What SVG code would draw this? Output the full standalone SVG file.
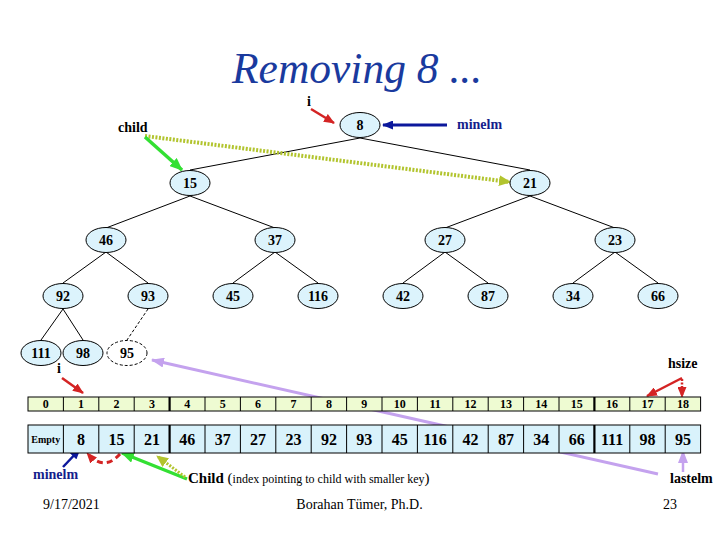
<svg xmlns="http://www.w3.org/2000/svg" width="720" height="540" viewBox="0 0 720 540">
<defs>
<style>
.edge{stroke:#000;stroke-width:1;fill:none}
.node ellipse{fill:#dcf3fc;stroke:#000;stroke-width:1}
.node text,.lbl{font-family:"Liberation Serif","Times New Roman",serif;font-weight:bold;font-size:14px;fill:#000}
.node text{text-anchor:middle}
.idx{fill:#eefbd2;stroke:#000;stroke-width:1}
.val{fill:#d9f2fb;stroke:#000;stroke-width:1}
.it{font-family:"Liberation Serif",serif;font-weight:bold;font-size:12px;text-anchor:middle}
.vt{font-family:"Liberation Serif",serif;font-weight:bold;font-size:16px;text-anchor:middle}
.ft{font-family:"Liberation Serif",serif;font-size:14px;fill:#000}
</style>
<marker id="ar-red" markerUnits="userSpaceOnUse" markerWidth="11" markerHeight="9" refX="10" refY="4.5" orient="auto"><path d="M0,0 L11,4.5 L0,9 z" fill="#d42424"/></marker>
<marker id="ar-blue" markerUnits="userSpaceOnUse" markerWidth="11" markerHeight="9" refX="10" refY="4.5" orient="auto"><path d="M0,0 L11,4.5 L0,9 z" fill="#0c189c"/></marker>
<marker id="ar-green" markerUnits="userSpaceOnUse" markerWidth="13" markerHeight="11" refX="12" refY="5.5" orient="auto"><path d="M0,0 L13,5.5 L0,11 z" fill="#33e033"/></marker>
<marker id="ar-yg" markerUnits="userSpaceOnUse" markerWidth="12" markerHeight="11" refX="11" refY="5.5" orient="auto"><path d="M0,0 L12,5.5 L0,11 z" fill="#b2c42e"/></marker>
<marker id="ar-lav" markerUnits="userSpaceOnUse" markerWidth="13" markerHeight="10" refX="12" refY="5" orient="auto"><path d="M0,0 L13,5 L0,10 z" fill="#c4a2ee"/></marker>
</defs>
<rect width="720" height="540" fill="#fff"/>

<text x="232" y="83" font-family="Liberation Serif, serif" font-style="italic" font-size="43.5" fill="#1a3a9e">Removing 8 ...</text>

<g id="connectors">
<path class="edge" d="M360,138 L190,170"/>
<path class="edge" d="M360,138 L530,170"/>
<path class="edge" d="M190,196 L106,228"/>
<path class="edge" d="M190,196 L275,228"/>
<path class="edge" d="M530,196 L445,228"/>
<path class="edge" d="M530,196 L615,228"/>
<path class="edge" d="M106,252 L63,283"/>
<path class="edge" d="M106,252 L148,283"/>
<path class="edge" d="M275,252 L233,283"/>
<path class="edge" d="M275,252 L318,283"/>
<path class="edge" d="M445,252 L403,283"/>
<path class="edge" d="M445,252 L488,283"/>
<path class="edge" d="M615,252 L573,283"/>
<path class="edge" d="M615,252 L658,283"/>
<path class="edge" d="M63,309 L41,340"/>
<path class="edge" d="M63,309 L83,340"/>
<path class="edge" d="M148,309 L127,340" stroke-dasharray="3,2"/>
<path d="M145,136 L510,182" stroke="#b2c42e" stroke-width="4" stroke-dasharray="2,1.5" fill="none" marker-end="url(#ar-yg)"/>
<path d="M145,137 L182,170" stroke="#33e033" stroke-width="3.5" fill="none" marker-end="url(#ar-green)"/>
<path d="M311,109 L334,123" stroke="#d42424" stroke-width="2.5" fill="none" marker-end="url(#ar-red)"/>
<path d="M447,125 L383,125" stroke="#0c189c" stroke-width="3" fill="none" marker-end="url(#ar-blue)"/>
<path d="M658,474 L152,360" stroke="#c4a2ee" stroke-width="3" fill="none" marker-end="url(#ar-lav)"/>
<path d="M62,378 L83,393" stroke="#d42424" stroke-width="2.5" fill="none" marker-end="url(#ar-red)"/>
<path d="M682,378 L647,396" stroke="#d42424" stroke-width="2.5" fill="none" marker-end="url(#ar-red)"/>
<path d="M682,379 L682,397" stroke="#d42424" stroke-width="2.5" stroke-dasharray="2,1.5" fill="none" marker-end="url(#ar-red)"/>
<path d="M63,467 L80,449" stroke="#0c189c" stroke-width="2.5" fill="none" marker-end="url(#ar-blue)"/>
<path d="M120,454 Q104,472 87,453" stroke="#d42424" stroke-width="3" stroke-dasharray="6,4" fill="none" marker-end="url(#ar-red)"/>
<path d="M187,479 L122,453" stroke="#33e033" stroke-width="3.5" fill="none" marker-end="url(#ar-green)"/>
<path d="M185,477 L157,456" stroke="#b2c42e" stroke-width="3" stroke-dasharray="2,1.5" fill="none" marker-end="url(#ar-yg)"/>
<path d="M683,472 L683,451" stroke="#c4a2ee" stroke-width="2.5" fill="none" marker-end="url(#ar-lav)"/>
</g>

<g id="node-8" class="node"><ellipse cx="360" cy="125" rx="20" ry="12.5"/><text x="360" y="130">8</text></g>
<g id="node-15" class="node"><ellipse cx="190" cy="183" rx="20" ry="12.5"/><text x="190" y="188">15</text></g>
<g id="node-21" class="node"><ellipse cx="530" cy="183" rx="20" ry="12.5"/><text x="530" y="188">21</text></g>
<g id="node-46" class="node"><ellipse cx="106" cy="240" rx="20" ry="12.5"/><text x="106" y="245">46</text></g>
<g id="node-37" class="node"><ellipse cx="275" cy="240" rx="20" ry="12.5"/><text x="275" y="245">37</text></g>
<g id="node-27" class="node"><ellipse cx="445" cy="240" rx="20" ry="12.5"/><text x="445" y="245">27</text></g>
<g id="node-23" class="node"><ellipse cx="615" cy="240" rx="20" ry="12.5"/><text x="615" y="245">23</text></g>
<g id="node-92" class="node"><ellipse cx="63" cy="296" rx="20" ry="12.5"/><text x="63" y="301">92</text></g>
<g id="node-93" class="node"><ellipse cx="148" cy="296" rx="20" ry="12.5"/><text x="148" y="301">93</text></g>
<g id="node-45" class="node"><ellipse cx="233" cy="296" rx="20" ry="12.5"/><text x="233" y="301">45</text></g>
<g id="node-116" class="node"><ellipse cx="318" cy="296" rx="20" ry="12.5"/><text x="318" y="301">116</text></g>
<g id="node-42" class="node"><ellipse cx="403" cy="296" rx="20" ry="12.5"/><text x="403" y="301">42</text></g>
<g id="node-87" class="node"><ellipse cx="488" cy="296" rx="20" ry="12.5"/><text x="488" y="301">87</text></g>
<g id="node-34" class="node"><ellipse cx="573" cy="296" rx="20" ry="12.5"/><text x="573" y="301">34</text></g>
<g id="node-66" class="node"><ellipse cx="658" cy="296" rx="20" ry="12.5"/><text x="658" y="301">66</text></g>
<g id="node-111" class="node"><ellipse cx="41" cy="353" rx="20" ry="12.5"/><text x="41" y="358">111</text></g>
<g id="node-98" class="node"><ellipse cx="83" cy="353" rx="20" ry="12.5"/><text x="83" y="358">98</text></g>
<g id="node-95" class="node"><ellipse cx="127" cy="353" rx="20" ry="12.5" style="fill:#fff;stroke-dasharray:3,2"/><text x="127" y="358">95</text></g>

<g id="labels">
<text class="lbl" x="307" y="106" font-size="13">i</text>
<text class="lbl" x="118" y="132">child</text>
<text class="lbl" x="457" y="129" style="fill:#141e8c">minelm</text>
<text class="lbl" x="668" y="368">hsize</text>
<text class="lbl" x="57" y="373" font-size="13">i</text>
<text class="lbl" x="33" y="479" style="fill:#141e8c">minelm</text>
<text class="lbl" x="670" y="483">lastelm</text>
<text x="188" y="483" font-family="Liberation Serif, serif" fill="#000"><tspan font-weight="bold" font-size="15">Child</tspan><tspan font-size="15"> (</tspan><tspan font-size="12">index pointing to child with smaller key</tspan><tspan font-size="15">)</tspan></text>
</g>

<g id="array-index">
<rect class="idx" x="28" y="397" width="672.6" height="14"/>
<path d="M63.4,397V411M98.8,397V411M134.2,397V411M205,397V411M240.4,397V411M275.8,397V411M311.2,397V411M346.6,397V411M382,397V411M417.4,397V411M452.8,397V411M488.2,397V411M523.6,397V411M559,397V411M629.8,397V411M665.2,397V411" stroke="#000" stroke-width="1"/>
<path d="M169.6,397V411M594.4,397V411" stroke="#000" stroke-width="2.2"/>
<g class="it">
<text x="45.7" y="408">0</text><text x="81.1" y="408">1</text><text x="116.5" y="408">2</text><text x="151.9" y="408">3</text><text x="187.3" y="408">4</text><text x="222.7" y="408">5</text><text x="258.1" y="408">6</text><text x="293.5" y="408">7</text><text x="328.9" y="408">8</text><text x="364.3" y="408">9</text><text x="399.7" y="408">10</text><text x="435.1" y="408">11</text><text x="470.5" y="408">12</text><text x="505.9" y="408">13</text><text x="541.3" y="408">14</text><text x="576.7" y="408">15</text><text x="612.1" y="408">16</text><text x="647.5" y="408">17</text><text x="682.9" y="408">18</text>
</g>
</g>

<g id="array-values">
<rect class="val" x="28" y="425" width="672.6" height="28"/>
<path d="M63.4,425V453M98.8,425V453M134.2,425V453M205,425V453M240.4,425V453M275.8,425V453M311.2,425V453M346.6,425V453M382,425V453M417.4,425V453M452.8,425V453M488.2,425V453M523.6,425V453M559,425V453M629.8,425V453M665.2,425V453" stroke="#000" stroke-width="1"/>
<path d="M169.6,425V453M594.4,425V453" stroke="#000" stroke-width="2.2"/>
<text x="45.7" y="443" font-family="Liberation Serif, serif" font-weight="bold" font-size="10" text-anchor="middle">Empty</text>
<g class="vt">
<text x="81.1" y="445">8</text><text x="116.5" y="445">15</text><text x="151.9" y="445">21</text><text x="187.3" y="445">46</text><text x="222.7" y="445">37</text><text x="258.1" y="445">27</text><text x="293.5" y="445">23</text><text x="328.9" y="445">92</text><text x="364.3" y="445">93</text><text x="399.7" y="445">45</text><text x="435.1" y="445">116</text><text x="470.5" y="445">42</text><text x="505.9" y="445">87</text><text x="541.3" y="445">34</text><text x="576.7" y="445">66</text><text x="612.1" y="445">111</text><text x="647.5" y="445">98</text><text x="682.9" y="445">95</text>
</g>
</g>

<g id="footer">
<text class="ft" x="43" y="509">9/17/2021</text>
<text class="ft" x="359.5" y="509" text-anchor="middle">Borahan Tümer, Ph.D.</text>
<text class="ft" x="663" y="509">23</text>
</g>
</svg>
